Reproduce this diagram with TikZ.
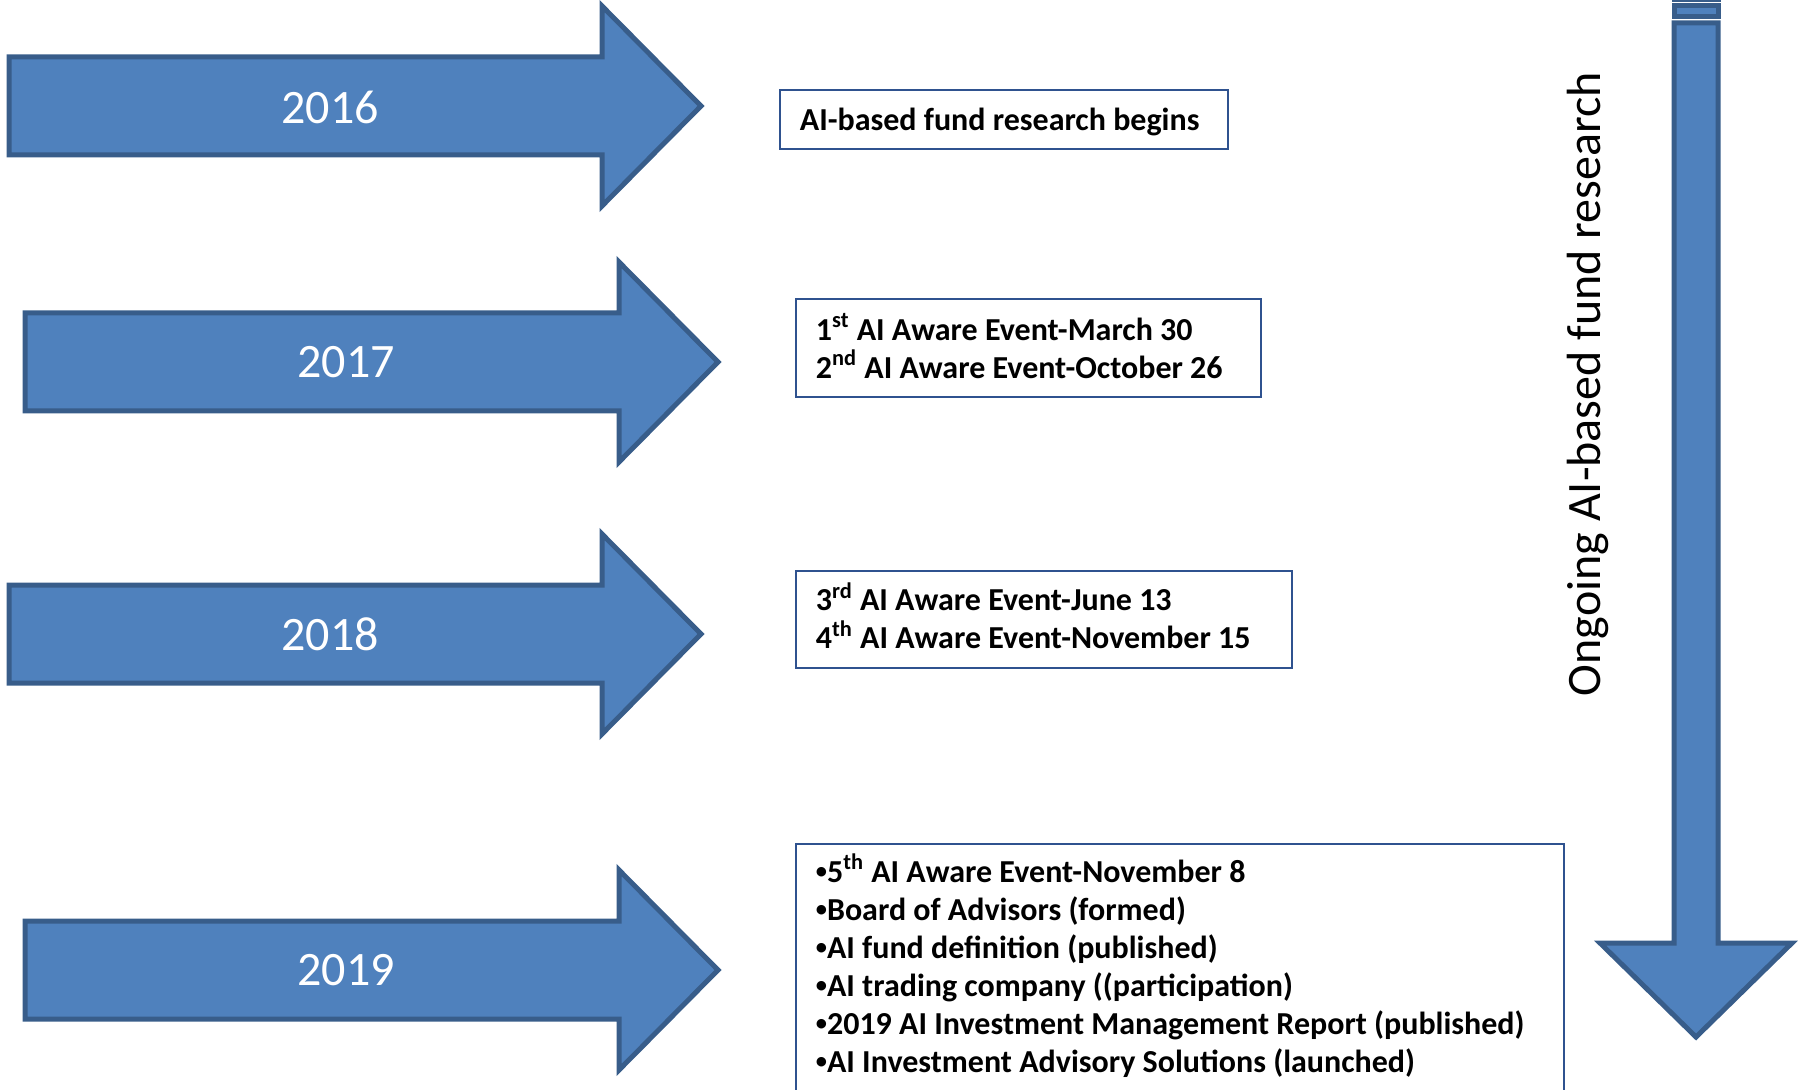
\documentclass[tikz,border=0pt]{standalone}
\usepackage{fontspec}
\usepackage{graphicx}
\setmainfont{Carlito}
\definecolor{arrowblue}{HTML}{4F81BD}
\definecolor{edgeblue}{HTML}{385D8A}
\definecolor{boxblue}{HTML}{2F528F}
\newcommand{\ord}[1]{\smash{\textsuperscript{#1}}}
\newcommand{\dotmark}{\raisebox{0.12em}{\scalebox{0.7}{\textbullet}}}

\tikzset{
  yeararrow/.style={fill=arrowblue, draw=edgeblue, line width=2.5pt, line join=miter},
  yearlabel/.style={text=white, font=\fontsize{24}{29}\selectfont},
  eventbox/.style={draw=boxblue, line width=0.9pt, anchor=north west, align=flush left,
    inner xsep=10pt, font=\bfseries\fontsize{16}{19}\selectfont}
}

\begin{document}
\begin{tikzpicture}[x=0.5pt, y=-0.5pt]
\path[use as bounding box, clip] (0,0) rectangle (1798,1090);

% year arrows
\draw[yeararrow] (9,57) -- (602,57) -- (602,6) -- (701,106) -- (602,206) -- (602,155) -- (9,155) -- cycle;
\draw[yeararrow] (25,313) -- (619,313) -- (619,262) -- (718,362) -- (619,462) -- (619,411) -- (25,411) -- cycle;
\draw[yeararrow] (9,585) -- (602,585) -- (602,534) -- (701,634) -- (602,734) -- (602,683) -- (9,683) -- cycle;
\draw[yeararrow] (25,921) -- (619,921) -- (619,870) -- (718,970) -- (619,1070) -- (619,1019) -- (25,1019) -- cycle;

\node[yearlabel] (y0) at (330,107) {2016};
\node[yearlabel] (y1) at (346,362) {2017};
\node[yearlabel] (y2) at (330,634) {2018};
\node[yearlabel] (y3) at (346,970) {2019};

% events
\node[eventbox, text width=204pt, minimum height=29.5pt, text depth=0pt] (b0) at (779,89)
  {AI-based fund research begins};
\node[eventbox, text width=212.5pt, minimum height=49pt] (b1) at (795,298)
  {1\ord{st} AI Aware Event-March 30\\
   2\ord{nd} AI Aware Event-October 26};
\node[eventbox, text width=228pt, minimum height=48.5pt] (b2) at (795,570)
  {3\ord{rd} AI Aware Event-June 13\\
   4\ord{th} AI Aware Event-November 15};
\node[eventbox, text width=364pt, inner ysep=8pt] (b3) at (795,843)
  {\dotmark5\ord{th} AI Aware Event-November 8\\
   \dotmark Board of Advisors (formed)\\
   \dotmark AI fund definition (published)\\
   \dotmark AI trading company ((participation)\\
   \dotmark 2019 AI Investment Management Report (published)\\
   \dotmark AI Investment Advisory Solutions (launched)};

% ongoing research
\draw[yeararrow] (1674,-20) rectangle (1718,0);
\draw[yeararrow] (1674,6) rectangle (1718,17);
\draw[yeararrow] (1674,23) -- (1674,943) -- (1600,943) -- (1696,1037) -- (1792,943) -- (1718,943) -- (1718,23) -- cycle;
\node[rotate=90, font=\fontsize{24}{29}\selectfont] (r) at (1588,384) {Ongoing AI-based fund research};

\end{tikzpicture}
\end{document}
